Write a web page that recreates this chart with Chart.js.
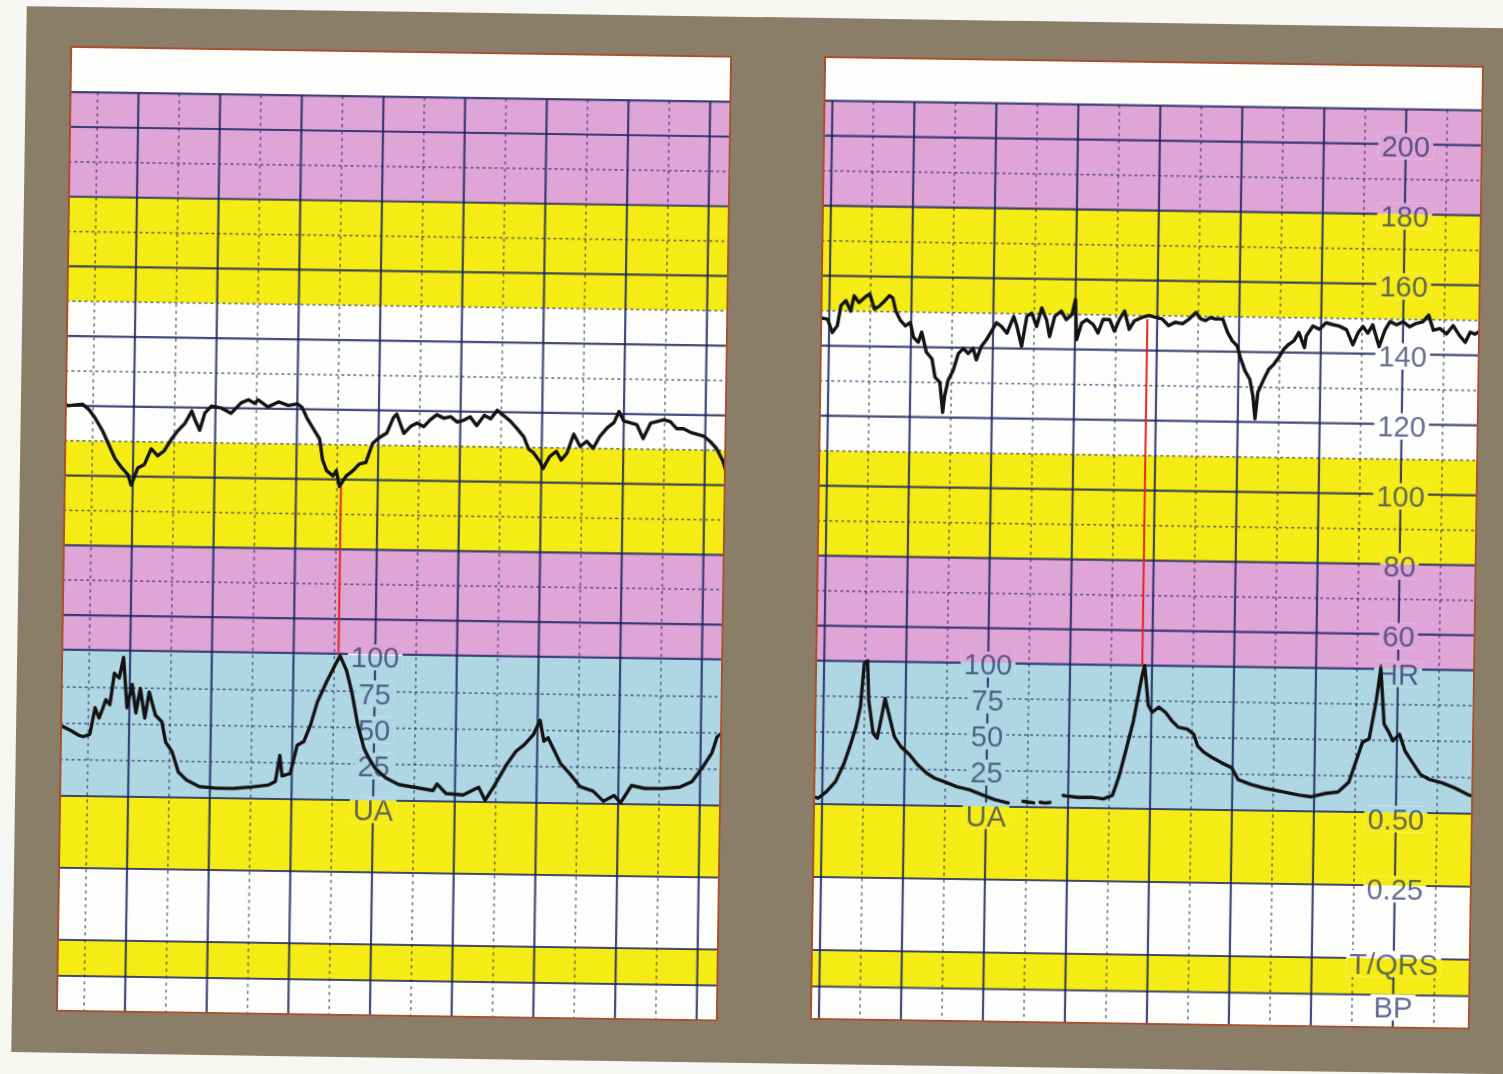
<!DOCTYPE html>
<html>
<head>
<meta charset="utf-8">
<script src="https://cdn.jsdelivr.net/npm/chart.js@4.4.1/dist/chart.umd.min.js"></script>
<style>
html,body{margin:0;padding:0;background:#f6f6f3;width:1503px;height:1074px;overflow:hidden;}
#page{position:absolute;left:0;top:0;width:1503px;height:1074px;transform:rotate(0.85deg);transform-origin:751.5px 537px;}
#frame{position:absolute;left:19px;top:17px;width:1560px;height:1046px;background:#8b7e69;}
canvas.panel{position:absolute;}
</style>
</head>
<body>
<div id="page">
  <div id="frame"></div>
  <canvas id="leftPanel" class="panel"></canvas>
  <canvas id="rightPanel" class="panel"></canvas>
</div>
<script>
// ---------------- DATA (minutes on x, bpm / UA units on y) ----------------
// Left strip: fetal heart rate trace
const leftFhrTime = [
  -0.84,-0.81,-0.63,-0.55,-0.47,-0.38,-0.30,-0.22,-0.14,-0.06,
  -0.02,0.06,0.14,0.22,0.30,0.38,0.47,0.55,0.63,0.71,
  0.75,0.81,0.87,0.95,1.07,1.19,1.31,1.40,1.48,1.52,
  1.64,1.77,1.89,2.00,2.06,2.12,2.20,2.28,2.32,2.37,
  2.45,2.49,2.53,2.61,2.69,2.77,2.85,2.93,3.00,3.10,
  3.18,3.22,3.31,3.39,3.47,3.55,3.63,3.71,3.80,3.88,
  3.96,4.04,4.12,4.20,4.29,4.37,4.45,4.53,4.61,4.69,
  4.78,4.84,4.90,4.98,5.02,5.10,5.18,5.24,5.31,5.39,
  5.47,5.55,5.63,5.71,5.80,5.88,5.94,6.00,6.08,6.16,
  6.24,6.33,6.41,6.49,6.57,6.65,6.73,6.82,6.90,6.98,
  7.06,7.14,7.22,7.26
];
const leftFhrBpm = [
  120.5,120,120.5,119,116.5,113,109,105,102.5,100.5,
  97.5,102.5,103.5,108,106,107.5,111,113.5,115.5,119,
  116.5,113.5,118.5,120.5,120,118.5,121.5,122.5,121.5,122.5,
  120.5,122,121,121.5,120.5,117.5,114.5,111.5,105.5,102.5,
  101,102.5,98,101,102.5,104.5,105,110.5,112,113.5,
  118,119,113.5,115.5,116.5,115.5,117.5,119,118,118.5,
  117,117.5,118.5,116,119,118,120.5,119,117.5,115.5,
  113,109.5,108.5,106,104,107.5,109,106.5,108.5,114,
  110.5,112,110,113.5,116,117.5,120.7,118,117.5,117,
  113,117.5,118,118.5,118,116,116,115,114.5,114,
  112.5,110.5,107,104
];
// Left strip: uterine activity trace
const leftUaTime = [
  -0.84,-0.82,-0.71,-0.62,-0.56,-0.48,-0.42,-0.37,-0.33,-0.29,
  -0.24,-0.19,-0.13,-0.08,-0.03,0.03,0.08,0.13,0.19,0.24,
  0.32,0.40,0.45,0.53,0.61,0.71,0.87,1.08,1.30,1.51,
  1.72,1.80,1.85,1.88,1.98,2.06,2.14,2.22,2.30,2.41,
  2.51,2.57,2.65,2.72,2.80,2.88,2.94,3.02,3.15,3.31,
  3.52,3.73,3.78,3.89,4.10,4.29,4.37,4.47,4.63,4.74,
  4.84,4.95,5.03,5.08,5.13,5.21,5.29,5.40,5.53,5.69,
  5.82,5.95,6.03,6.16,6.32,6.53,6.75,6.90,7.04,7.14,
  7.20,7.26
];
const leftUaValue = [
  47,48,45,42,41,42.7,61,54,60,66.7,
  63.3,85,81.8,96,61.4,77.4,57.9,74.9,54.4,72.5,
  56.5,52,38,31.6,17.6,12.2,7.7,6.8,6.9,8,
  9.6,12,30,16,17.7,37.2,39.8,51.3,67.3,81.4,
  92.9,99.4,89.5,74.5,51.5,35.6,29.1,22.1,15.7,11.2,
  9.3,7.4,12,5.5,4.6,10.1,1.2,10.2,26.3,35.3,
  39.9,46.9,57,42.5,45,36,27.1,20.6,11.7,8.7,
  1.8,5.8,0.9,12.9,11,11.1,12.2,16.2,27.3,36.3,
  47.4,50
];
// Right strip: fetal heart rate trace
const rightFhrTime = [
  -0.11,-0.02,0.04,0.10,0.14,0.20,0.26,0.30,0.36,0.43,
  0.49,0.55,0.61,0.67,0.73,0.77,0.81,0.87,0.93,0.99,
  1.03,1.09,1.13,1.19,1.26,1.30,1.36,1.40,1.42,1.46,
  1.52,1.58,1.64,1.70,1.76,1.80,1.86,1.92,1.98,2.04,
  2.10,2.17,2.25,2.29,2.35,2.41,2.47,2.53,2.59,2.65,
  2.69,2.75,2.83,2.89,2.96,3.00,3.02,3.08,3.14,3.22,
  3.28,3.34,3.42,3.48,3.54,3.60,3.66,3.72,3.82,3.90,
  3.98,4.06,4.14,4.22,4.31,4.39,4.47,4.53,4.59,4.65,
  4.71,4.80,4.86,4.92,4.98,5.02,5.08,5.14,5.18,5.21,
  5.24,5.31,5.37,5.43,5.49,5.55,5.61,5.67,5.73,5.80,
  5.82,5.90,5.98,6.06,6.14,6.22,6.31,6.39,6.45,6.51,
  6.57,6.63,6.71,6.78,6.84,6.92,7.00,7.08,7.16,7.24,
  7.31,7.37,7.45,7.53,7.61,7.69,7.76,7.82,7.88,7.94
];
const rightFhrBpm = [
  148,147.6,143.8,145.8,151.5,153,150,154.4,152.5,154,
  155,150.7,151.6,153,154.6,154,150.3,147.5,146,147,
  142.8,141.4,144.3,138.6,136.7,131.5,130,121.5,126,130.6,
  133.5,138.3,139.8,138.4,139.9,136.6,140.5,142.4,144.8,147.3,
  146.3,144.4,149.2,146.4,140.7,149.3,150.2,146.4,151.7,148.4,
  143.6,149.4,150.9,148.5,150,154.3,142.8,147.6,148.6,147.2,
  144.8,148.7,148.7,145.4,148.8,151.2,146,148.4,149.5,150,
  149.5,149.1,147.2,148.2,147.8,149.2,151.1,149.3,148.8,149.7,
  149.3,149.3,145.5,143.1,141.7,138.4,134.6,132.2,127.5,121,
  128.5,132.3,135.2,136.6,138.6,141,142.4,143.4,145.8,141.5,
  144.8,147.7,146.8,148.7,148.2,147.8,146.8,142.5,145.9,147.8,
  145.9,148.3,142.1,146.9,149.3,148.4,149.3,147.9,148.9,149.4,
  151.3,147,147.5,146,148.4,145.6,143.7,146.6,146.1,147
];
// Right strip: uterine activity trace (null = signal gap)
const rightUaTime = [
  -0.11,-0.05,0.05,0.16,0.26,0.34,0.40,0.45,0.49,0.53,
  0.55,0.61,0.66,0.71,0.75,0.79,0.87,0.95,1.06,1.16,
  1.27,1.37,1.48,1.64,1.80,1.95,2.11,2.27,2.30,2.45,
  2.51,2.58,2.60,2.66,2.72,2.78,2.80,2.94,2.96,3.12,
  3.28,3.43,3.54,3.62,3.70,3.78,3.83,3.88,3.91,3.96,
  4.01,4.09,4.17,4.25,4.33,4.44,4.52,4.57,4.65,4.75,
  4.86,4.99,5.07,5.23,5.39,5.60,5.81,5.97,6.13,6.29,
  6.42,6.50,6.58,6.66,6.74,6.79,6.84,6.89,6.95,7.03,
  7.10,7.18,7.29,7.40,7.55,7.71,7.87,7.94
];
const rightUaValue = [
  5,4,8.6,15.7,28.3,42.3,54,68,98,100,
  72.7,49.7,46.3,61.3,74,64.9,47.5,40.7,35,28.2,
  22.5,19.1,16.9,13.5,11.4,8.1,4.8,2.7,null,4,
  3.5,3,null,3.5,3,3.5,null,8.5,8.2,7.3,
  7.5,6.5,9,23,41.5,60.2,76.4,92.5,99.5,71.9,
  67.2,70.8,67.3,61.5,57,55.8,52.4,44.3,39.8,36.3,
  32.9,29.4,21.3,17.9,15.6,13.4,11.2,10.1,12.5,13.7,
  20.7,34.6,48.5,50.8,77.4,100,61.3,56.7,49.8,54.4,
  42.9,36,26.8,23.4,21.2,17.8,13.3,12
];
// Red event markers (time in minutes, bpm span)
const leftMarkerTime = 2.55, leftMarkerBpm = [98, 50];
const rightMarkerTime = 3.88, rightMarkerBpm = [149, 50];

// Paper zones
const hrZones = [[180, 210, 'pink'], [150, 180, 'yellow'], [110, 150, 'white'], [80, 110, 'yellow'], [50, 80, 'pink']];
const uaZone = [0, 100];
const lowZones = [[0.25, 0.5, 'yellow'], [0, 0.25, 'white'], [-0.125, 0, 'yellow'], [-0.5, -0.125, 'white']];
// Grid values
const hrMajor = [210, 200, 180, 160, 140, 120, 100, 80, 60, 50];
const hrMinor = [190, 170, 150, 130, 110, 90, 70];
const uaMinor = [75, 50, 25];
const uaMajor = [0];
const lowMajor = [0.25, 0, -0.125];
// Tick labels
const hrTickLabels = ['200', '180', '160', '140', '120', '100', '80', '60', 'HR'];
const hrTickValues = [200, 180, 160, 140, 120, 100, 80, 60, 49.3];
const uaTickLabels = ['100', '75', '50', '25', 'UA'];
const uaTickValues = [100, 75, 50, 25, -5];
const lowTickLabels = ['0.50', '0.25', 'T/QRS', 'BP'];
const lowTickValues = [0.485, 0.245, -0.012, -0.16];

// ---------------- STYLE / LAYOUT ----------------
const STYLE = {
  paper: '#fdfdfb', white: '#fdfdfb', pink: '#dfa5d7', yellow: '#f5ec16', blue: '#afd6e3',
  gridMajor: 'rgba(25,35,95,0.82)', gridMinor: 'rgba(25,35,95,0.62)',
  label: 'rgba(40,52,105,0.72)', trace: '#141414', red: '#e3261f', border: '#a9502e',
  font: '29px "Liberation Sans", Arial, sans-serif'
};
const GEO = {
  left: {id: 'leftPanel', left: 63, top: 56, width: 662, height: 966, xMin: -0.845, xMax: 7.26,
         hr: [-53.88, 223.24], ua: [-148.97, 517.2], low: [-0.25, 3.104],
         uaLabelAt: 3, hrLabelAt: null},
  right: {id: 'rightPanel', left: 817, top: 55, width: 660, height: 964, xMin: -0.11, xMax: 7.94,
          hr: [-52.66, 222.77], ua: [-150, 519.4], low: [-0.2397, 3.0616],
          uaLabelAt: 2, hrLabelAt: 7}
};

function paperPlugin(geo) {
  return {
    id: 'ctgPaper',
    beforeDatasetsDraw(chart) {
      const ctx = chart.ctx;
      const {left: L, right: R, top: T, bottom: B} = chart.chartArea;
      const sx = chart.scales.x, sHR = chart.scales.yHR, sUA = chart.scales.yUA, sLow = chart.scales.yLow;
      const paintBands = () => {
        ctx.fillStyle = STYLE.paper;
        ctx.fillRect(L, T, R - L, B - T);
        const band = (scale, from, to, color) => {
          const y1 = scale.getPixelForValue(to), y2 = scale.getPixelForValue(from);
          ctx.fillStyle = color;
          ctx.fillRect(L, y1, R - L, y2 - y1);
        };
        hrZones.forEach(z => band(sHR, z[0], z[1], STYLE[z[2]]));
        band(sUA, uaZone[0], uaZone[1], STYLE.blue);
        lowZones.forEach(z => band(sLow, z[0], z[1], STYLE[z[2]]));
      };
      ctx.save();
      paintBands();
      const hline = (y, major) => {
        ctx.beginPath();
        ctx.setLineDash(major ? [] : [3, 3]);
        ctx.lineWidth = major ? 2.2 : 1.6;
        ctx.strokeStyle = major ? STYLE.gridMajor : STYLE.gridMinor;
        ctx.moveTo(L, y); ctx.lineTo(R, y); ctx.stroke();
      };
      hrMajor.forEach(v => hline(sHR.getPixelForValue(v), true));
      hrMinor.forEach(v => hline(sHR.getPixelForValue(v), false));
      uaMinor.forEach(v => hline(sUA.getPixelForValue(v), false));
      uaMajor.forEach(v => hline(sUA.getPixelForValue(v), true));
      lowMajor.forEach(v => hline(sLow.getPixelForValue(v), true));
      const vTop = sHR.getPixelForValue(210);
      for (let m = Math.ceil(geo.xMin * 2) / 2; m <= geo.xMax; m += 0.5) {
        const major = Math.abs(m - Math.round(m)) < 1e-6;
        const x = sx.getPixelForValue(m);
        ctx.beginPath();
        ctx.setLineDash(major ? [] : [3, 4]);
        ctx.lineWidth = major ? 2.2 : 1.6;
        ctx.strokeStyle = major ? STYLE.gridMajor : STYLE.gridMinor;
        ctx.moveTo(x, vTop); ctx.lineTo(x, B); ctx.stroke();
      }
      ctx.setLineDash([]);
      // labels
      const items = [];
      const ux = sx.getPixelForValue(geo.uaLabelAt);
      uaTickLabels.forEach((t, i) => items.push({text: t, x: ux, y: sUA.getPixelForValue(uaTickValues[i]) + 2}));
      if (geo.hrLabelAt !== null) {
        const hx = sx.getPixelForValue(geo.hrLabelAt);
        hrTickLabels.forEach((t, i) => items.push({text: t, x: hx, y: sHR.getPixelForValue(hrTickValues[i]) + 2}));
        lowTickLabels.forEach((t, i) => items.push({text: t, x: hx, y: sLow.getPixelForValue(lowTickValues[i]) + 2}));
      }
      ctx.font = STYLE.font;
      ctx.save();
      ctx.beginPath();
      items.forEach(it => {
        const w = ctx.measureText(it.text).width;
        ctx.rect(it.x - w / 2 - 3, it.y - 13, w + 6, 26);
      });
      ctx.clip();
      paintBands();
      ctx.restore();
      ctx.font = STYLE.font;
      ctx.fillStyle = STYLE.label;
      ctx.textAlign = 'center';
      ctx.textBaseline = 'alphabetic';
      items.forEach(it => ctx.fillText(it.text, it.x, it.y + 10.4));
      ctx.restore();
    },
    afterDraw(chart) {
      const ctx = chart.ctx;
      const {left: L, right: R, top: T, bottom: B} = chart.chartArea;
      ctx.save();
      ctx.strokeStyle = STYLE.border;
      ctx.lineWidth = 2;
      ctx.strokeRect(L + 1, T + 1, R - L - 2, B - T - 2);
      ctx.restore();
    }
  };
}

function pairs(xs, ys) { return xs.map((x, i) => ({x: x, y: ys[i]})); }

function buildPanel(geo, fhrT, fhrV, uaT, uaV, mT, mBpm) {
  const canvas = document.getElementById(geo.id);
  canvas.width = geo.width; canvas.height = geo.height;
  canvas.style.left = geo.left + 'px'; canvas.style.top = geo.top + 'px';
  canvas.style.width = geo.width + 'px'; canvas.style.height = geo.height + 'px';
  return new Chart(canvas, {
    type: 'line',
    data: {
      datasets: [
        {label: 'FHR', data: pairs(fhrT, fhrV), yAxisID: 'yHR', borderColor: STYLE.trace, borderWidth: 3.4,
         pointRadius: 0, tension: 0, borderJoinStyle: 'round', borderCapStyle: 'round', order: 0},
        {label: 'UA', data: pairs(uaT, uaV), yAxisID: 'yUA', borderColor: STYLE.trace, borderWidth: 3.4,
         pointRadius: 0, tension: 0, spanGaps: false, borderJoinStyle: 'round', borderCapStyle: 'round', order: 1},
        {label: 'marker', data: pairs([mT, mT], mBpm), yAxisID: 'yHR', borderColor: STYLE.red, borderWidth: 2,
         pointRadius: 0, order: 2}
      ]
    },
    options: {
      animation: false, responsive: false, devicePixelRatio: 1, events: [],
      layout: {padding: 0},
      plugins: {legend: {display: false}, tooltip: {enabled: false}},
      scales: {
        x: {type: 'linear', min: geo.xMin, max: geo.xMax, display: false},
        yHR: {type: 'linear', axis: 'y', min: geo.hr[0], max: geo.hr[1], display: false},
        yUA: {type: 'linear', axis: 'y', min: geo.ua[0], max: geo.ua[1], display: false},
        yLow: {type: 'linear', axis: 'y', min: geo.low[0], max: geo.low[1], display: false}
      }
    },
    plugins: [paperPlugin(geo)]
  });
}

buildPanel(GEO.left, leftFhrTime, leftFhrBpm, leftUaTime, leftUaValue, leftMarkerTime, leftMarkerBpm);
buildPanel(GEO.right, rightFhrTime, rightFhrBpm, rightUaTime, rightUaValue, rightMarkerTime, rightMarkerBpm);
</script>
</body>
</html>
